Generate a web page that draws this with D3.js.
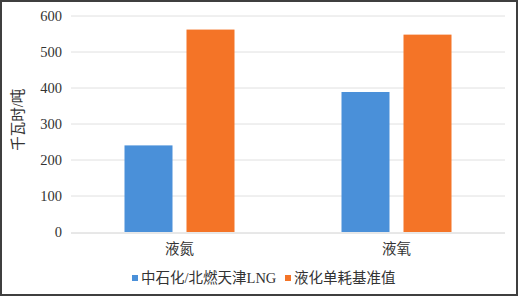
<!DOCTYPE html>
<html>
<head>
<meta charset="utf-8">
<script src="https://cdn.jsdelivr.net/npm/d3@7"></script>
<style>
  body { margin: 0; background: #fff; }
  text { font-family: "Liberation Serif", "Noto Sans CJK SC", serif; fill: #333; }
</style>
</head>
<body>
<div id="chart"></div>
<script>
const categories = ["液氮", "液氧"];
const seriesNames = ["中石化/北燃天津LNG", "液化单耗基准值"];
const seriesValues = [
  [240, 388],
  [561, 547]
];
const yTicks = [0, 100, 200, 300, 400, 500, 600];
const colors = ["#4a90d9", "#f47427"];

const W = 519, H = 297;
const margin = { top: 15.5, right: 14, bottom: 65, left: 71 };
const width = W - margin.left - margin.right;
const height = H - margin.top - margin.bottom;

const svgEl = d3.select("#chart").append("svg")
  .attr("width", W)
  .attr("height", H);

// outer frame
svgEl.append("rect")
  .attr("x", 1).attr("y", 1)
  .attr("width", W - 3).attr("height", H - 3)
  .attr("fill", "none")
  .attr("stroke", "#3f3f3f")
  .attr("stroke-width", 2);

const svg = svgEl.append("g")
  .attr("transform", `translate(${margin.left},${margin.top})`);

const x0 = d3.scaleBand().domain(categories).range([0, width]).paddingInner(0).paddingOuter(0);
const y = d3.scaleLinear().domain([0, 600]).range([height, 0]);

// two 48px bars with a 14px gap, centred in each band
const barW = 48, gap = 14;
const x1 = d3.scaleBand().domain(d3.range(seriesNames.length))
  .range([(x0.bandwidth() - (2 * barW + gap)) / 2, (x0.bandwidth() + (2 * barW + gap)) / 2])
  .paddingInner(gap / (barW + gap)).paddingOuter(0);

svg.append("g")
  .selectAll("line")
  .data(yTicks)
  .join("line")
  .attr("x1", 0).attr("x2", width)
  .attr("y1", d => Math.round(y(d)) + 0.5)
  .attr("y2", d => Math.round(y(d)) + 0.5)
  .attr("stroke", d => d === 0 ? "#d0d0d0" : "#e0e0e0")
  .attr("stroke-width", 1);

const yAxis = svg.append("g")
  .call(d3.axisLeft(y).tickValues(yTicks).tickSize(0).tickPadding(9))
  .attr("font-family", "'Liberation Serif', serif");
yAxis.select(".domain").remove();
yAxis.selectAll("text")
  .style("font-size", "14.5px")
  .style("font-family", "'Liberation Serif', serif")
  .attr("fill", "#262626");

const groups = svg.selectAll(".grp")
  .data(categories)
  .join("g")
  .attr("class", "grp")
  .attr("transform", d => `translate(${x0(d)},0)`);

groups.selectAll("rect")
  .data((d, i) => seriesValues.map((s, j) => ({ j, v: s[i] })))
  .join("rect")
  .attr("x", d => x1(d.j))
  .attr("width", x1.bandwidth())
  .attr("y", d => y(d.v))
  .attr("height", d => y(0) - y(d.v))
  .attr("fill", d => colors[d.j]);

const xAxis = svg.append("g")
  .attr("transform", `translate(0,${height})`)
  .call(d3.axisBottom(x0).tickSize(0).tickPadding(12));
xAxis.select(".domain").remove();
xAxis.selectAll("text")
  .style("font-size", "14.5px")
  .style("font-family", "'Liberation Serif', 'Noto Sans CJK SC', serif")
  .attr("fill", "#262626");

svg.append("text")
  .attr("transform", `translate(${18 - margin.left},${height / 2 - 4}) rotate(-90)`)
  .attr("text-anchor", "middle")
  .attr("dominant-baseline", "central")
  .style("font-size", "14.5px")
  .attr("fill", "#555")
  .text("千瓦时/吨");

// legend
const legend = svgEl.append("g").attr("transform", `translate(0,278)`);
const legendX = [132, 285];
seriesNames.forEach((name, i) => {
  const g = legend.append("g").attr("transform", `translate(${legendX[i]},0)`);
  g.append("rect").attr("x", 0).attr("y", -3).attr("width", 6).attr("height", 6).attr("fill", colors[i]);
  g.append("text")
    .attr("x", 9)
    .attr("y", 0)
    .attr("dominant-baseline", "central")
    .style("font-size", "14.5px")
    .attr("fill", "#262626")
    .text(name);
});
</script>
</body>
</html>
